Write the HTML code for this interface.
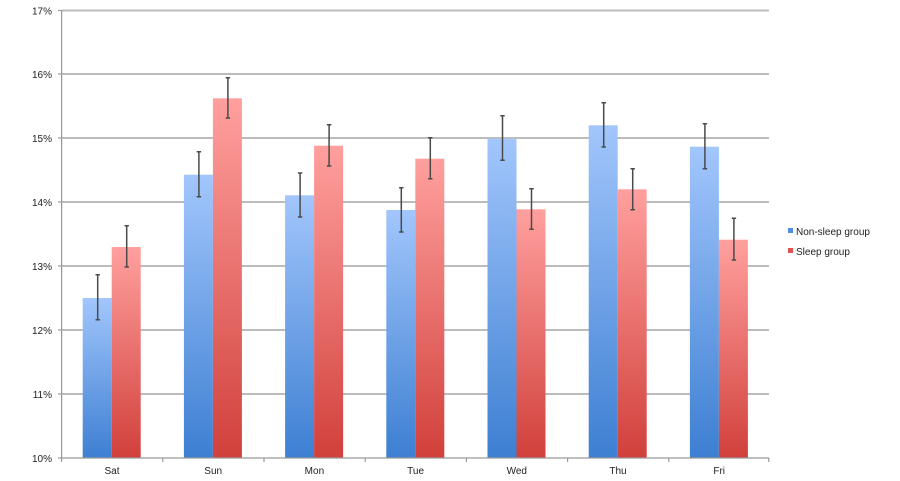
<!DOCTYPE html>
<html>
<head>
<meta charset="utf-8">
<style>
html,body{margin:0;padding:0;background:#fff;}
svg{display:block;}
text{font-family:"Liberation Sans",Arial,sans-serif;font-size:10px;fill:#222;}
</style>
</head>
<body>
<svg width="900" height="481" viewBox="0 0 900 481" xmlns="http://www.w3.org/2000/svg">
<defs>
<linearGradient id="gb" x1="0" y1="0" x2="0" y2="1">
<stop offset="0" stop-color="#a2c6fc"/>
<stop offset="1" stop-color="#3d7fd2"/>
</linearGradient>
<linearGradient id="gr" x1="0" y1="0" x2="0" y2="1">
<stop offset="0" stop-color="#ffa09e"/>
<stop offset="1" stop-color="#d1403b"/>
</linearGradient>
</defs>
<!-- gridlines -->
<g stroke="#bcbcbc" stroke-width="2">
<line x1="62" y1="10.5" x2="769" y2="10.5"/>
<line x1="62" y1="74" x2="769" y2="74"/>
<line x1="62" y1="138" x2="769" y2="138"/>
<line x1="62" y1="202" x2="769" y2="202"/>
<line x1="62" y1="266" x2="769" y2="266"/>
<line x1="62" y1="330" x2="769" y2="330"/>
<line x1="62" y1="394" x2="769" y2="394"/>
</g>
<!-- y labels -->
<g text-anchor="end">
<text x="52" y="14.5">17%</text>
<text x="52" y="78">16%</text>
<text x="52" y="142">15%</text>
<text x="52" y="206">14%</text>
<text x="52" y="270">13%</text>
<text x="52" y="334">12%</text>
<text x="52" y="398">11%</text>
<text x="52" y="462">10%</text>
</g>
<!-- bars -->
<g>
<rect x="82.7" y="298" width="29" height="160" fill="url(#gb)"/>
<rect x="111.7" y="247" width="29" height="211" fill="url(#gr)"/>
<rect x="183.9" y="174.7" width="29" height="283.3" fill="url(#gb)"/>
<rect x="212.9" y="98.3" width="29" height="359.7" fill="url(#gr)"/>
<rect x="285.1" y="195.3" width="29" height="262.7" fill="url(#gb)"/>
<rect x="314.1" y="145.7" width="29" height="312.3" fill="url(#gr)"/>
<rect x="386.3" y="210" width="29" height="248" fill="url(#gb)"/>
<rect x="415.3" y="158.7" width="29" height="299.3" fill="url(#gr)"/>
<rect x="487.5" y="138.7" width="29" height="319.3" fill="url(#gb)"/>
<rect x="516.5" y="209.3" width="29" height="248.7" fill="url(#gr)"/>
<rect x="588.7" y="125.3" width="29" height="332.7" fill="url(#gb)"/>
<rect x="617.7" y="189.3" width="29" height="268.7" fill="url(#gr)"/>
<rect x="689.9" y="146.7" width="29" height="311.3" fill="url(#gb)"/>
<rect x="718.9" y="239.7" width="29" height="218.3" fill="url(#gr)"/>
</g>
<!-- error bars -->
<g stroke="#4a4a4a" stroke-width="1.5" fill="none">
<path d="M97.7 274.7V319.7M95.5 274.7h4.4M95.5 319.7h4.4"/>
<path d="M126.7 225.7V267M124.5 225.7h4.4M124.5 267h4.4"/>
<path d="M198.9 151.7V196.7M196.7 151.7h4.4M196.7 196.7h4.4"/>
<path d="M227.9 77.7V118M225.7 77.7h4.4M225.7 118h4.4"/>
<path d="M300.1 173V217M297.9 173h4.4M297.9 217h4.4"/>
<path d="M329.1 124.7V166M326.9 124.7h4.4M326.9 166h4.4"/>
<path d="M401.3 187.7V232M399.1 187.7h4.4M399.1 232h4.4"/>
<path d="M430.3 137.7V178.7M428.1 137.7h4.4M428.1 178.7h4.4"/>
<path d="M502.5 115.7V160.3M500.3 115.7h4.4M500.3 160.3h4.4"/>
<path d="M531.5 188.7V229.3M529.3 188.7h4.4M529.3 229.3h4.4"/>
<path d="M603.7 102.7V147M601.5 102.7h4.4M601.5 147h4.4"/>
<path d="M632.7 168.7V209.7M630.5 168.7h4.4M630.5 209.7h4.4"/>
<path d="M704.9 123.7V168.7M702.7 123.7h4.4M702.7 168.7h4.4"/>
<path d="M733.9 218.3V260M731.7 218.3h4.4M731.7 260h4.4"/>
</g>
<!-- axes -->
<g stroke="#9a9a9a" stroke-width="1.2">
<line x1="61.6" y1="10" x2="61.6" y2="458.5"/>
<line x1="58" y1="10.5" x2="62" y2="10.5"/>
<line x1="58" y1="74" x2="62" y2="74"/>
<line x1="58" y1="138" x2="62" y2="138"/>
<line x1="58" y1="202" x2="62" y2="202"/>
<line x1="58" y1="266" x2="62" y2="266"/>
<line x1="58" y1="330" x2="62" y2="330"/>
<line x1="58" y1="394" x2="62" y2="394"/>
<line x1="58" y1="458" x2="769" y2="458"/>
<line x1="61.6" y1="458" x2="61.6" y2="462"/>
<line x1="162.8" y1="458" x2="162.8" y2="462"/>
<line x1="264" y1="458" x2="264" y2="462"/>
<line x1="365.2" y1="458" x2="365.2" y2="462"/>
<line x1="466.4" y1="458" x2="466.4" y2="462"/>
<line x1="567.6" y1="458" x2="567.6" y2="462"/>
<line x1="668.8" y1="458" x2="668.8" y2="462"/>
<line x1="768.8" y1="458" x2="768.8" y2="462"/>
</g>
<!-- x labels -->
<g text-anchor="middle">
<text x="112" y="474">Sat</text>
<text x="213.2" y="474">Sun</text>
<text x="314.4" y="474">Mon</text>
<text x="415.6" y="474">Tue</text>
<text x="516.8" y="474">Wed</text>
<text x="618" y="474">Thu</text>
<text x="719.2" y="474">Fri</text>
</g>
<!-- legend -->
<rect x="788" y="228" width="5" height="5" fill="#4f8ee0"/>
<text x="796" y="235">Non-sleep group</text>
<rect x="788" y="248" width="5" height="5" fill="#e0524d"/>
<text x="796" y="255">Sleep group</text>
</svg>
</body>
</html>
